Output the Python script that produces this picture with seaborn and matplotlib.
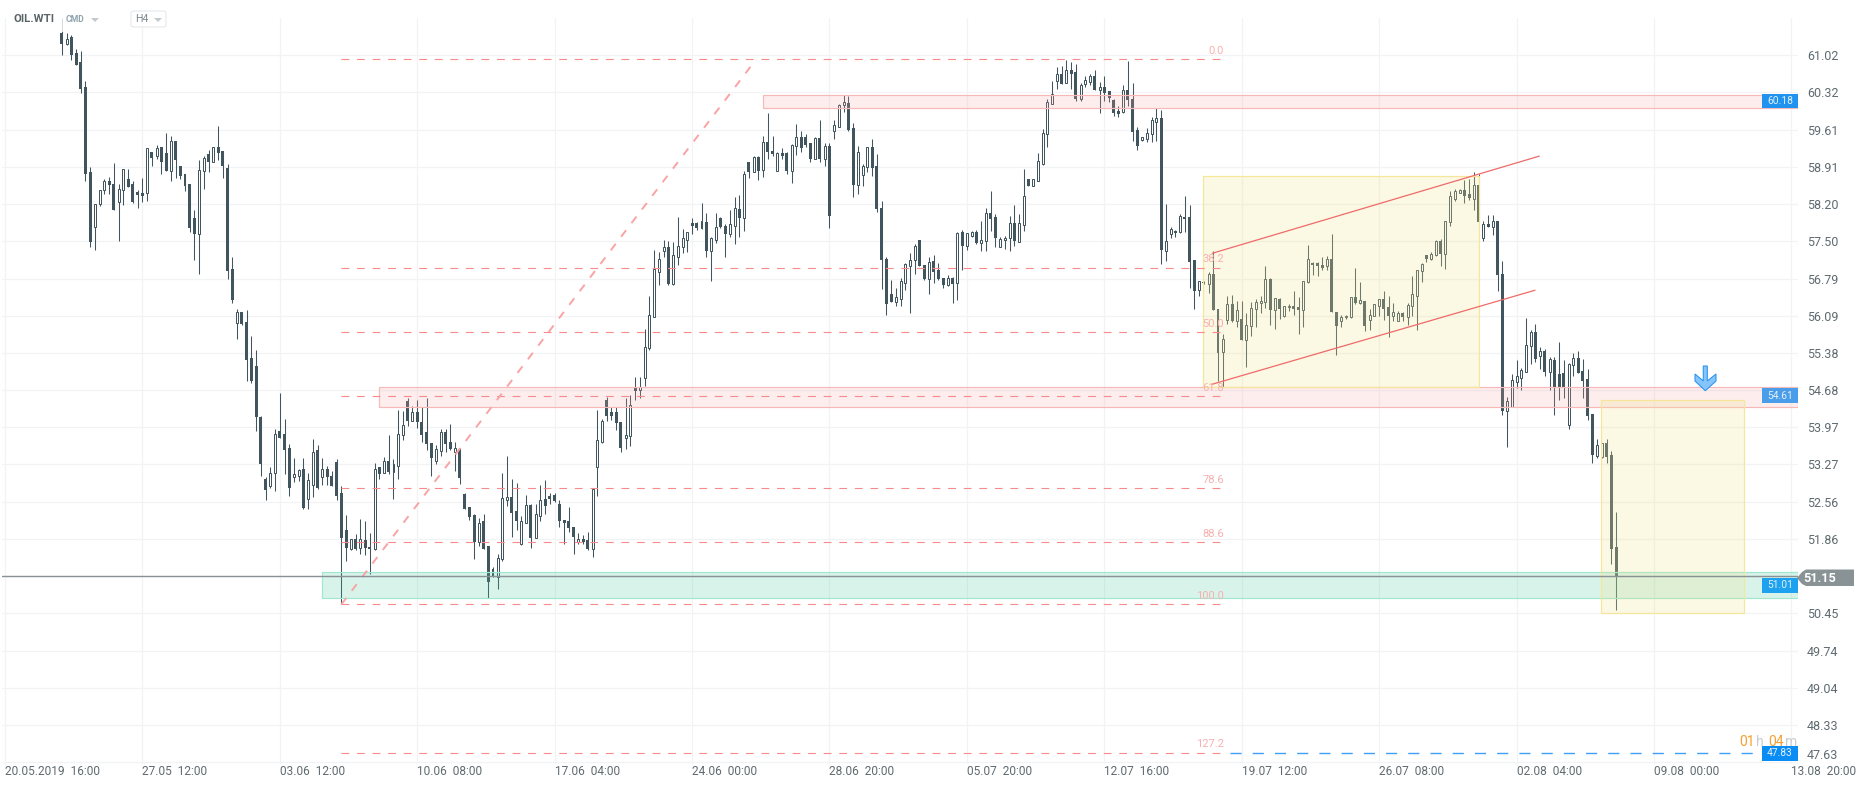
import matplotlib
matplotlib.use("Agg")
import matplotlib.pyplot as plt
from matplotlib.patches import Rectangle, Polygon, FancyBboxPatch
import numpy as np
import pandas as pd
import seaborn as sns

# OIL.WTI H4 candles
highs = [
    61.72,61.45,61.40,61.13,61.10,60.53,58.90,58.20,58.46,58.68,
    58.72,58.98,58.59,58.86,58.87,58.63,58.46,58.70,59.26,59.19,
    59.33,59.28,59.54,59.49,59.39,58.92,58.78,58.59,58.08,59.04,
    59.11,59.23,59.28,59.68,59.21,58.96,57.19,56.21,56.15,56.20,
    55.70,55.43,54.18,53.03,53.22,53.94,54.62,54.13,53.65,53.40,
    53.18,53.39,53.10,53.76,53.63,53.39,53.24,53.14,53.37,52.86,
    52.31,51.85,51.95,52.24,52.20,51.98,53.29,53.22,53.41,53.83,
    53.37,54.30,54.28,54.52,54.38,54.50,54.36,54.52,53.67,53.64,
    53.95,53.94,54.04,53.70,53.59,52.72,52.47,52.34,52.25,52.34,
    51.73,51.33,51.57,53.10,53.43,52.99,52.91,52.30,52.69,52.53,
    52.53,52.89,52.97,52.72,52.72,52.60,52.22,52.46,52.09,51.98,
    51.93,52.00,52.80,54.30,54.14,54.55,54.36,54.36,54.07,54.52,
    54.59,54.92,54.92,55.83,56.46,57.34,57.29,57.53,57.50,57.48,
    57.96,57.73,57.67,57.94,57.86,58.22,58.03,57.57,58.03,57.96,
    57.82,58.09,58.34,58.38,58.83,59.00,59.11,59.11,59.49,59.92,
    59.49,59.18,59.26,59.18,59.34,59.72,59.58,59.52,59.35,59.48,
    59.79,59.35,59.35,59.79,60.10,60.27,60.25,59.74,59.30,58.97,
    59.28,59.43,59.15,58.26,57.19,56.76,56.61,56.80,57.08,57.28,
    57.45,57.53,57.05,57.19,57.23,57.09,56.81,56.85,56.82,57.68,
    57.71,57.65,57.70,57.72,57.89,58.13,58.45,58.02,57.57,57.59,
    57.97,58.18,58.01,58.86,58.68,58.68,59.17,59.63,60.20,60.53,
    60.80,60.82,60.93,60.90,60.86,60.49,60.62,60.66,60.74,60.51,
    60.62,60.34,60.19,60.06,60.45,60.92,60.50,59.66,59.47,59.64,
    59.86,60.03,59.98,58.20,57.77,57.71,58.01,58.36,58.18,57.14,
    56.74,56.74,56.92,57.31,56.21,55.75,56.46,56.48,56.37,56.37,
    56.13,56.34,56.40,56.46,57.02,56.81,56.42,56.42,56.27,56.30,
    56.56,56.45,56.74,57.43,57.11,57.10,57.19,57.21,57.64,56.16,
    56.10,56.10,56.45,56.99,56.73,56.36,56.21,56.31,56.40,56.56,
    56.46,56.33,56.18,56.15,56.32,56.83,56.95,57.08,57.24,57.30,
    57.52,57.54,57.89,58.44,58.48,58.49,58.66,58.67,58.80,58.78,
    57.88,57.99,57.99,57.88,57.12,54.54,54.98,55.24,55.10,56.04,
    55.82,55.93,55.50,55.46,55.31,55.30,55.59,55.25,55.19,55.38,
    55.42,55.26,55.08,54.22,53.75,53.68,53.75,53.53,52.37,
]
body_tops = [
    61.45,61.32,61.36,61.06,60.89,60.41,58.80,58.20,58.46,58.63,
    58.63,58.59,58.48,58.86,58.68,58.59,58.43,58.41,59.26,59.18,
    59.26,59.28,59.16,59.39,59.39,58.92,58.77,58.58,57.93,58.84,
    59.07,59.15,59.28,59.28,59.21,58.89,56.97,56.15,56.15,55.96,
    55.28,55.13,54.17,53.00,53.10,53.84,53.90,53.84,53.59,53.08,
    53.16,53.18,52.97,53.50,53.54,53.18,53.18,53.05,53.31,52.72,
    52.02,51.85,51.85,51.85,51.83,51.70,53.18,53.22,53.33,53.33,
    53.27,53.84,54.01,54.47,54.26,54.26,54.07,53.88,53.67,53.56,
    53.88,53.88,53.69,53.58,53.56,52.71,52.46,52.31,52.17,52.19,
    51.73,51.29,51.49,52.63,52.65,52.65,52.38,52.19,52.51,52.51,
    52.34,52.59,52.62,52.67,52.69,52.52,52.21,52.19,52.09,51.85,
    51.85,51.83,52.80,53.73,54.09,54.50,54.26,54.26,54.07,53.82,
    54.39,54.74,54.74,55.49,56.10,56.97,57.17,57.38,57.39,57.23,
    57.40,57.55,57.67,57.84,57.84,57.89,57.86,57.55,57.76,57.94,
    57.79,57.82,58.12,58.11,58.77,59.00,59.09,59.09,59.37,59.37,
    59.20,59.16,59.16,59.16,59.33,59.48,59.48,59.47,59.35,59.45,
    59.45,59.30,59.30,59.69,60.07,60.13,60.11,59.64,59.18,58.92,
    59.28,59.28,58.92,58.12,57.17,56.50,56.44,56.74,57.06,57.15,
    57.40,57.53,57.04,57.10,57.12,56.95,56.80,56.80,56.80,57.65,
    57.67,57.65,57.67,57.67,57.52,58.03,58.03,57.96,57.54,57.56,
    57.84,57.84,57.84,58.35,58.67,58.67,59.01,59.54,60.13,60.28,
    60.66,60.66,60.75,60.74,60.70,60.45,60.55,60.62,60.62,60.41,
    60.41,60.34,60.17,59.96,60.36,60.36,60.20,59.60,59.47,59.54,
    59.79,59.84,59.83,57.50,57.73,57.70,57.97,57.96,57.96,57.14,
    56.74,56.73,56.87,56.88,56.21,55.64,56.30,56.31,56.19,56.03,
    55.91,56.23,56.34,56.37,56.78,56.78,56.42,56.40,56.27,56.28,
    56.28,56.25,56.74,57.17,57.08,57.08,57.04,57.17,57.17,56.16,
    56.06,56.09,56.44,56.44,56.38,56.36,56.11,56.30,56.40,56.40,
    56.25,56.15,56.14,56.13,56.29,56.49,56.95,57.07,57.23,57.26,
    57.50,57.50,57.89,58.35,58.44,58.46,58.46,58.39,58.56,58.56,
    57.82,57.82,57.88,57.88,56.87,54.48,54.87,54.94,55.06,55.54,
    55.77,55.77,55.41,55.41,55.26,55.25,54.99,55.01,55.17,55.28,
    55.28,55.04,54.89,54.22,53.63,53.67,53.67,53.44,51.70,
]
body_bottoms = [
    61.24,61.23,61.03,60.84,60.39,58.78,57.49,57.77,58.21,58.46,
    58.57,58.09,58.25,58.46,58.53,58.25,58.38,58.36,58.41,59.08,
    59.11,59.00,58.83,58.82,59.04,58.74,58.55,57.74,57.64,57.64,
    58.82,59.00,59.00,59.16,58.93,56.94,56.39,55.94,55.93,55.25,
    54.86,54.16,53.27,52.79,52.87,53.10,53.78,53.55,52.83,53.03,
    53.06,52.45,52.62,52.89,52.83,53.03,53.03,52.87,52.68,51.88,
    51.68,51.66,51.67,51.68,51.69,51.66,51.67,53.09,53.10,53.13,
    53.13,53.25,53.82,54.09,54.10,54.07,53.83,53.66,53.40,53.34,
    53.53,53.66,53.56,53.51,53.01,52.43,52.28,51.80,51.80,51.67,
    51.05,51.14,51.14,51.47,52.60,52.36,52.19,51.76,52.17,51.88,
    51.88,52.30,52.48,52.62,52.58,52.19,52.16,52.07,51.90,51.80,
    51.80,51.66,51.66,53.22,53.69,54.18,54.19,54.06,53.59,53.77,
    53.80,54.67,54.68,54.90,55.47,56.07,56.91,57.32,56.69,56.69,
    57.20,57.38,57.53,57.79,57.75,57.75,57.32,57.32,57.53,57.76,
    57.64,57.64,57.79,57.94,57.94,58.80,58.80,58.82,58.85,59.18,
    59.15,58.83,59.12,58.83,58.82,59.31,59.27,59.32,59.06,59.06,
    59.06,59.06,57.98,59.59,59.66,60.07,59.60,58.57,58.57,58.75,
    58.91,58.89,58.10,57.15,56.30,56.35,56.35,56.41,56.70,57.02,
    57.14,57.02,56.78,56.79,56.92,56.78,56.66,56.66,56.68,56.70,
    57.41,57.41,57.59,57.47,57.47,57.50,57.92,57.55,57.39,57.52,
    57.55,57.51,57.49,57.81,58.55,58.55,58.64,58.97,59.52,60.10,
    60.54,60.48,60.50,60.67,60.20,60.20,60.47,60.52,60.37,60.37,
    60.31,60.21,59.93,59.91,59.95,60.18,59.57,59.31,59.42,59.44,
    59.52,59.76,57.34,57.32,57.63,57.65,57.67,57.91,57.11,56.56,
    56.58,56.70,56.68,56.20,55.39,55.40,56.01,55.99,55.99,55.63,
    55.63,55.90,56.22,56.32,56.35,56.20,56.20,56.21,56.08,56.25,
    56.22,56.20,56.19,56.72,57.04,57.02,57.00,57.02,56.16,55.90,
    55.98,56.06,56.06,56.32,56.32,55.90,56.00,56.09,56.28,56.22,
    56.09,56.09,55.99,56.06,56.06,56.27,56.47,56.93,57.16,57.17,
    57.24,57.26,57.26,57.86,58.29,58.42,58.36,58.32,58.30,57.86,
    57.55,57.76,57.77,56.85,54.29,54.28,54.36,54.84,54.91,55.03,
    55.51,55.27,55.33,55.03,55.03,54.74,54.74,54.73,54.01,55.15,
    55.01,54.85,54.19,53.44,53.43,53.42,53.42,51.67,51.13,
]
lows = [
    61.03,61.21,60.93,60.84,60.31,58.63,57.39,57.34,58.17,58.40,
    58.40,58.08,57.51,58.19,58.53,58.23,58.13,58.24,58.26,58.93,
    59.06,58.78,58.83,58.63,58.70,58.68,58.44,57.67,57.14,56.88,
    58.49,58.80,58.99,59.04,58.70,56.79,56.33,55.65,55.92,54.86,
    54.82,53.91,53.06,52.60,52.82,52.77,53.78,53.08,52.68,52.93,
    52.96,52.43,52.43,52.66,52.81,52.89,52.89,52.87,52.60,50.62,
    51.45,51.65,51.65,51.57,51.56,51.19,51.65,53.00,53.10,53.09,
    52.62,53.00,53.73,53.99,54.09,53.96,53.69,53.54,53.05,53.28,
    53.43,53.51,53.54,53.15,52.90,52.43,52.22,51.48,51.73,51.67,
    50.74,51.13,50.91,51.45,52.49,51.90,52.02,51.75,52.16,51.69,
    51.88,52.20,52.33,52.52,52.55,52.09,51.76,52.00,51.58,51.76,
    51.76,51.65,51.51,52.68,53.68,54.10,54.11,53.92,53.51,53.57,
    53.62,54.49,54.52,54.76,55.44,56.07,56.66,57.19,56.66,56.66,
    57.05,57.27,57.30,57.64,57.72,57.73,57.20,56.75,57.47,57.74,
    57.20,57.57,57.45,57.57,57.70,58.70,58.80,58.66,58.72,59.06,
    59.12,58.83,59.06,58.77,58.61,59.13,59.19,59.28,59.00,59.06,
    58.99,58.93,57.75,59.44,59.66,59.95,59.59,58.34,58.39,58.55,
    58.80,58.73,58.06,56.60,56.10,56.35,56.27,56.28,56.57,56.13,
    56.87,57.02,56.76,56.49,56.71,56.76,56.61,56.65,56.32,56.38,
    56.95,57.34,57.57,57.44,57.32,57.32,57.70,57.38,57.38,57.36,
    57.31,57.40,57.49,57.70,58.55,58.55,58.63,58.95,59.29,60.10,
    60.38,60.48,60.50,60.38,60.16,60.16,60.41,60.46,60.36,59.93,
    60.15,60.14,59.87,59.85,59.93,60.06,59.40,59.23,59.40,59.38,
    59.38,59.40,57.07,57.13,57.55,57.57,57.65,57.68,56.62,56.22,
    56.47,56.68,56.51,56.20,54.85,54.74,55.93,55.96,55.88,55.62,
    55.12,55.70,55.88,56.13,56.23,55.92,55.84,56.03,56.07,56.18,
    56.10,55.75,55.88,56.70,56.85,56.83,56.95,56.95,56.15,55.35,
    55.88,56.02,56.05,56.30,56.31,55.80,55.82,56.09,56.08,56.00,
    55.69,55.99,55.99,55.99,55.92,56.09,55.82,56.73,57.11,57.14,
    57.21,57.03,56.98,57.79,58.26,58.41,58.23,58.27,58.08,57.81,
    57.51,57.76,57.62,56.56,54.21,53.61,54.36,54.71,54.68,55.03,
    55.18,55.22,55.07,54.95,54.68,54.21,54.49,54.53,53.94,54.95,
    55.00,54.53,54.11,53.30,53.40,53.40,53.30,51.39,50.51,
]
# 1 = rising candle (hollow), 0 = falling candle (filled)
rising = [
    0,1,0,0,0,0,0,1,1,1, 0,0,1,1,0,0,0,0,1,0, 1,0,0,1,0,0,0,0,0,1,
    1,0,1,0,0,0,0,1,0,0, 0,0,0,0,1,1,0,0,0,1, 1,0,1,1,0,1,0,0,0,0,
    0,1,0,1,0,0,1,0,1,0, 1,1,1,0,1,0,0,0,0,1, 1,0,0,1,0,0,0,0,1,0,
    0,0,1,1,1,0,0,1,1,0, 1,1,0,0,0,0,0,0,0,1, 0,0,1,1,1,0,0,0,0,1,
    1,0,1,1,1,1,1,1,0,1, 1,1,1,0,0,1,0,1,1,0, 0,1,1,0,1,0,1,0,1,0,
    0,1,0,0,1,1,0,0,0,1, 0,1,0,1,1,1,0,0,1,1, 1,0,0,0,0,0,1,1,1,1,
    1,0,0,1,0,0,0,1,0,1, 0,1,1,0,1,1,0,0,1,1, 1,0,1,1,0,1,1,1,1,1,
    1,0,1,0,0,1,1,1,0,1, 0,0,0,0,1,0,0,0,1,1, 1,1,0,1,1,0,1,0,0,0,
    1,0,1,0,0,1,1,0,1,0, 1,1,1,1,1,0,1,0,1,1, 0,0,1,1,0,0,0,1,0,0,
    1,1,1,0,1,0,1,1,1,0, 0,1,1,0,1,1,1,1,0,1, 1,0,1,1,1,1,0,0,1,0,
    1,0,1,0,0,1,1,1,1,1, 1,0,1,0,1,0,0,0,1,1, 0,0,0,0,1,1,0,0,0,
]

y_ticks = [61.02, 60.32, 59.61, 58.91, 58.20, 57.50, 56.79, 56.09, 55.38, 54.68,
           53.97, 53.27, 52.56, 51.86, 51.15, 50.45, 49.74, 49.04, 48.33, 47.63]
x_tick_pos = [-12, 17, 46, 75, 104, 133, 162, 191, 220, 249, 278, 307, 336, 365]
x_tick_labels = ["20.05.2019  16:00", "27.05  12:00", "03.06  12:00", "10.06  08:00",
                 "17.06  04:00", "24.06  00:00", "28.06  20:00", "05.07  20:00",
                 "12.07  16:00", "19.07  12:00", "26.07  08:00", "02.08  04:00",
                 "09.08  00:00", "13.08  20:00"]

fib_high = 60.94
fib_low = 50.62
fib_levels = [0.0, 38.2, 50.0, 61.8, 78.6, 88.6, 100.0, 127.2]

last_price = 51.15
target_price = 47.81

W, H = 1866, 788
CANDLE = "#41555f"
GRID = "#f2f3f4"
LABEL = "#5f6b70"

sns.set_theme(style="white", rc={"axes.grid": True, "grid.color": GRID, "grid.linewidth": 0.85,
                                 "axes.axisbelow": True})
plt.rcParams["font.family"] = ["Roboto", "DejaVu Sans"]


def fig_xy(px, py):
    return px / W, 1 - py / H


df = pd.DataFrame({"high": highs, "top": body_tops, "bottom": body_bottoms, "low": lows, "rising": rising})
df["i"] = df.index
wicks = df.melt(id_vars="i", value_vars=["high", "low"], value_name="price")

fig = plt.figure(figsize=(W / 100, H / 100), dpi=100, facecolor="white")
ax = fig.add_axes([2 / W, 1 - 763.5 / H, 1796 / W, 745.5 / H])

sns.lineplot(data=wicks, x="i", y="price", units="i", estimator=None, errorbar=None,
             color=CANDLE, linewidth=0.75, solid_capstyle="butt", zorder=2, ax=ax)

falling_df = df[df["rising"] == 0]
rising_df = df[df["rising"] == 1]
ax.bar(falling_df["i"], falling_df["top"] - falling_df["bottom"], bottom=falling_df["bottom"],
       width=0.63, color=CANDLE, linewidth=0, zorder=3)
ax.bar(rising_df["i"], rising_df["top"] - rising_df["bottom"], bottom=rising_df["bottom"],
       width=0.42, facecolor="white", edgecolor=CANDLE, linewidth=0.72, zorder=3)

ax.set_xlim(-12.62, 366.4)
ax.set_ylim(47.606, 61.726)
ax.set_xlabel("")
ax.set_ylabel("")
for s in ax.spines.values():
    s.set_visible(False)

# zones on top of the candles
zones = [
    (148.06, 366.4, 60.03, 60.26, "#f5a5a5", "#f7b8b8", 0.2),
    (67.0, 366.4, 54.35, 54.73, "#f5a5a5", "#f7b8b8", 0.2),
    (55.0, 366.4, 50.74, 51.23, "#3cc896", "#9fe8cf", 0.2),
    (240.9, 299.0, 54.73, 58.73, "#f0e493", "#f5e69a", 0.26),
    (324.9, 355.0, 50.46, 54.49, "#f0e493", "#f5e69a", 0.26),
]
for x0, x1, p0, p1, fc, ec, a in zones:
    ax.add_patch(Rectangle((x0, p0), x1 - x0, p1 - p0, facecolor=fc, alpha=a, linewidth=0, zorder=5))
    ax.add_patch(Rectangle((x0, p0), x1 - x0, p1 - p0, fill=False, edgecolor=ec, linewidth=0.85, zorder=5))

# fibonacci levels
for lev in fib_levels:
    p = fib_high - (fib_high - fib_low) * lev / 100
    ax.plot([59, 246], [p, p], color="#f78a8a", lw=0.8, ls=(0, (7, 7)), zorder=6)
    ax.text(245.3, p + 0.06, f"{lev:.1f}", color="#f8b0b0", fontsize=8, ha="right", va="bottom", zorder=6)
ax.plot([59, 146.5], [fib_low, fib_high], color="#f9a4a4", lw=1.4, ls=(0, (4.2, 4.6)), zorder=6)

# channel
ax.plot([242.8, 311.8], [57.27, 59.11], color="#ef6a6a", lw=0.9, zorder=7)
ax.plot([242.8, 310.9], [54.79, 56.57], color="#ef6a6a", lw=0.9, zorder=7)

# last price and target
ax.plot([-12.62, 366.4], [last_price, last_price], color="#8a9194", lw=1.0, zorder=6)
ax.plot([246.5, 359], [target_price, target_price], color="#3f9ff5", lw=1.0, ls=(0, (8, 8)), zorder=6)

ax.set_yticks(y_ticks)
ax.set_yticklabels(["" if t == last_price else f"{t:.2f}" for t in y_ticks])
ax.yaxis.tick_right()
ax.set_xticks(x_tick_pos)
ax.set_xticklabels(x_tick_labels)
ax.tick_params(axis="y", length=0, pad=6.3, labelsize=9, labelcolor=LABEL)
ax.tick_params(axis="x", length=0, pad=1.0, labelsize=8.6, labelcolor=LABEL)
for lab in ax.get_xticklabels():
    lab.set_ha("left")
# bottom price label sits above its grid line
ax.get_yticklabels()[-1].set_va("bottom")


# right hand price tags
def price_tag(text, y0, y1, color):
    x, y = fig_xy(1762, y1)
    fig.add_artist(Rectangle((x, y), 36 / W, (y1 - y0) / H, transform=fig.transFigure,
                             facecolor=color, linewidth=0, zorder=2))
    tx, ty = fig_xy(1780, (y0 + y1) / 2)
    fig.text(tx, ty, text, color="#e4f1fc", fontsize=7.4, ha="center", va="center")


price_tag("60.18", 94, 108, "#1f93ef")
price_tag("54.61", 388, 403, "#4a9de8")
price_tag("51.01", 578, 593, "#1ea1ee")

# countdown above the target tag
for tx_px, part, col in [(1739, "01", "#f5a030"), (1756, "h", "#c9cdd0"), (1768, "04", "#f5a030"), (1785, "m", "#c9cdd0")]:
    tx, ty = fig_xy(tx_px, 742)
    fig.text(tx, ty, part, color=col, fontsize=10, ha="left", va="center")
price_tag("47.83", 746, 761, "#0a8cf5")

# last price tag
tag = [(1797, 578), (1802, 572), (1806, 569.5), (1854, 569.5), (1854, 586), (1806, 586), (1802, 584)]
fig.add_artist(Polygon([fig_xy(*p) for p in tag], closed=True, transform=fig.transFigure,
                       facecolor="#899396", linewidth=0, zorder=2))
tx, ty = fig_xy(1819.5, 578)
fig.text(tx, ty, "51.15", color="white", fontsize=9.2, fontweight="bold", ha="center", va="center")

# blue arrow
arrow = [(1703.3, 366), (1707.3, 366), (1707.3, 381), (1716, 374), (1716, 381), (1705.3, 390.7),
         (1695, 381), (1695, 374), (1703.3, 381)]
fig.add_artist(Polygon([fig_xy(*p) for p in arrow], closed=True, transform=fig.transFigure,
                       facecolor="#86c5fb", edgecolor="#2f97f0", linewidth=0.8, zorder=2))

# header, it pales the top of the first candle
fig.add_artist(Rectangle(fig_xy(56, 32), 10 / W, 14 / H, transform=fig.transFigure,
                         facecolor="white", alpha=0.8, linewidth=0, zorder=1))
tx, ty = fig_xy(14, 19.5)
fig.text(tx, ty, "OIL.WTI", color="#5a6468", fontsize=8.2, fontweight="bold", ha="left", va="center")
tx, ty = fig_xy(66, 19.5)
fig.text(tx, ty, "CMD", color="#8fa3ad", fontsize=6.2, fontweight="bold", ha="left", va="center")
fig.add_artist(FancyBboxPatch(fig_xy(131, 27), 35 / W, 16 / H, boxstyle="round,pad=0,rounding_size=0.002",
                              transform=fig.transFigure, facecolor="white", edgecolor="#e5e8ea",
                              linewidth=0.8, zorder=2))
tx, ty = fig_xy(135, 19.5)
fig.text(tx, ty, "H4", color="#7c878c", fontsize=7.6, ha="left", va="center")
for cx in (95, 158):
    tri = [(cx - 4, 18), (cx + 4, 18), (cx, 22)]
    fig.add_artist(Polygon([fig_xy(*p) for p in tri], closed=True, transform=fig.transFigure,
                           facecolor="#c3c9cc", linewidth=0, zorder=3))

fig.savefig("out.png", dpi=100, facecolor="white")
